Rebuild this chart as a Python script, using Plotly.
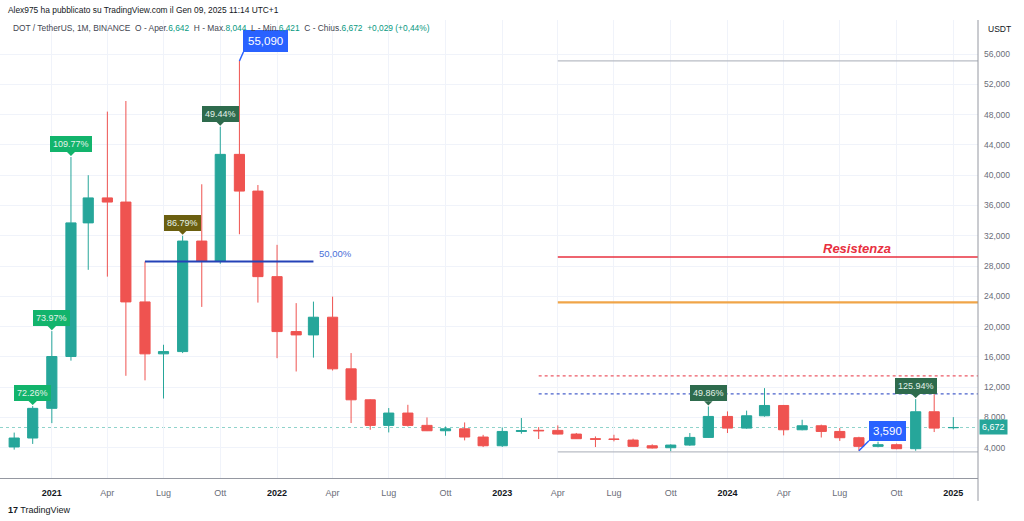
import plotly.graph_objects as go

# ---------------- data ----------------
months = ["2020-11-01", "2020-12-01",
          "2021-01-01", "2021-02-01", "2021-03-01", "2021-04-01", "2021-05-01", "2021-06-01",
          "2021-07-01", "2021-08-01", "2021-09-01", "2021-10-01", "2021-11-01", "2021-12-01",
          "2022-01-01", "2022-02-01", "2022-03-01", "2022-04-01", "2022-05-01", "2022-06-01",
          "2022-07-01", "2022-08-01", "2022-09-01", "2022-10-01", "2022-11-01", "2022-12-01",
          "2023-01-01", "2023-02-01", "2023-03-01", "2023-04-01", "2023-05-01", "2023-06-01",
          "2023-07-01", "2023-08-01", "2023-09-01", "2023-10-01", "2023-11-01", "2023-12-01",
          "2024-01-01", "2024-02-01", "2024-03-01", "2024-04-01", "2024-05-01", "2024-06-01",
          "2024-07-01", "2024-08-01", "2024-09-01", "2024-10-01", "2024-11-01", "2024-12-01",
          "2025-01-01"]
open_ = [4.10, 5.28,
         9.20, 16.05, 33.70, 37.00, 36.45, 23.26,
         16.40, 16.70, 31.30, 28.60, 42.75, 37.90,
         26.60, 19.34, 18.90, 21.24, 14.42, 10.33,
         6.95, 8.58, 6.95, 6.24, 6.50, 5.41,
         4.26, 6.15, 6.30, 6.29, 5.80, 5.19,
         5.15, 5.01, 4.26, 4.00, 4.35, 5.36,
         8.13, 6.59, 8.22, 9.58, 6.37, 6.90,
         6.15, 5.32, 4.18, 4.40, 3.87, 8.75,
         6.642]
high = [6.00, 9.50,
        19.40, 42.40, 40.00, 48.40, 49.80, 28.60,
        17.60, 32.00, 38.80, 46.40, 55.09, 38.70,
        30.80, 23.10, 23.30, 23.96, 16.50, 10.40,
        9.24, 9.67, 8.00, 6.80, 7.34, 5.70,
        6.68, 7.92, 6.73, 6.95, 5.95, 5.49,
        5.71, 5.20, 4.45, 4.45, 5.94, 9.45,
        8.80, 8.90, 11.87, 9.65, 7.69, 7.05,
        6.60, 5.45, 4.80, 4.55, 10.42, 11.08,
        8.044]
low = [3.75, 4.50,
       7.25, 15.50, 27.50, 26.60, 13.50, 12.90,
       10.50, 16.50, 22.60, 28.30, 32.20, 23.17,
       15.83, 14.07, 15.90, 14.20, 7.26, 6.37,
       6.02, 6.80, 6.20, 5.58, 4.97, 4.09,
       4.10, 5.85, 5.15, 5.75, 5.15, 4.09,
       4.84, 4.15, 3.90, 3.52, 4.25, 5.30,
       5.94, 6.50, 8.10, 5.63, 6.30, 5.35,
       4.90, 3.60, 4.05, 3.80, 3.60, 6.07,
       6.421]
close = [5.28, 9.20,
         16.05, 33.70, 37.00, 36.45, 23.26, 16.40,
         16.70, 31.30, 28.60, 42.75, 37.90, 26.60,
         19.34, 18.90, 21.24, 14.42, 10.33, 6.95,
         8.58, 6.95, 6.24, 6.50, 5.41, 4.26,
         6.15, 6.26, 6.24, 5.80, 5.19, 5.12,
         5.10, 4.18, 3.96, 4.35, 5.36, 8.13,
         6.59, 8.22, 9.58, 6.37, 6.90, 6.15,
         5.32, 4.18, 4.40, 3.87, 8.75, 6.59,
         6.672]

x_ticks = ["2021-01-01", "2021-04-01", "2021-07-01", "2021-10-01",
           "2022-01-01", "2022-04-01", "2022-07-01", "2022-10-01",
           "2023-01-01", "2023-04-01", "2023-07-01", "2023-10-01",
           "2024-01-01", "2024-04-01", "2024-07-01", "2024-10-01",
           "2025-01-01"]
x_labels = ["2021", "Apr", "Lug", "Ott", "2022", "Apr", "Lug", "Ott",
            "2023", "Apr", "Lug", "Ott", "2024", "Apr", "Lug", "Ott",
            "2025"]
y_ticks = [4, 8, 12, 16, 20, 24, 28, 32, 36, 40, 44, 48, 52, 56]
y_labels = ["4,000", "8,000", "12,000", "16,000", "20,000", "24,000", "28,000",
            "32,000", "36,000", "40,000", "44,000", "48,000", "52,000", "56,000"]

# percentage call-outs
callout_months = ["2020-12-01", "2021-01-01", "2021-02-01", "2021-08-01",
                  "2021-10-01", "2023-12-01", "2024-11-01"]
callout_texts = ["72.26%", "73.97%", "109.77%", "86.79%", "49.44%", "49.86%", "125.94%"]
callout_colors = ["#12b46c", "#12b46c", "#12b46c", "#6b5f10", "#2e6b4d", "#2e6b4d", "#2e6b4d"]

# horizontal levels
level_values = [55.09, 29.2, 23.2, 13.5, 11.1, 3.45]
level_starts = ["2023-04-01", "2023-04-01", "2023-04-01", "2023-03-01", "2023-03-01", "2023-04-01"]
level_colors = ["#b8bcc4", "#e8303f", "#f0a548", "#ec5a66", "#4a62cc", "#b8bcc4"]
level_dashes = ["solid", "solid", "solid", "dot", "dot", "solid"]
level_widths = [1.2, 1.6, 2.2, 1.2, 1.2, 1.2]

mid_level = 28.6
mid_start, mid_end = "2021-06-01", "2022-03-01"
last_price = 6.672

x_range = ["2020-10-09", "2025-02-10"]
y_range = [0, 60.5]

GREEN = "#26a69a"
RED = "#ef5350"
FONT = "Liberation Sans"

# year labels bold and dark, month labels grey
x_text = ["<b><span style='color:#131722'>%s</span></b>" % t if t.isdigit() else t for t in x_labels]

fig = go.Figure()
fig.add_trace(go.Candlestick(
    x=months, open=open_, high=high, low=low, close=close,
    increasing=dict(line=dict(color=GREEN, width=1), fillcolor=GREEN),
    decreasing=dict(line=dict(color=RED, width=1), fillcolor=RED),
    whiskerwidth=0, showlegend=False, hoverinfo="skip",
))

shapes = []
shapes.append(dict(type="line", xref="x", yref="y", x0=x_range[0], x1=x_range[1],
                   y0=last_price, y1=last_price,
                   line=dict(color="#8fd3cb", width=1, dash="dot"), layer="below"))
for v, s, c, d, w in zip(level_values, level_starts, level_colors, level_dashes, level_widths):
    shapes.append(dict(type="line", xref="x", yref="y", x0=s, x1=x_range[1], y0=v, y1=v,
                       line=dict(color=c, width=w, dash=d)))
shapes.append(dict(type="line", xref="x", yref="y", x0=mid_start, x1=mid_end,
                   y0=mid_level, y1=mid_level, line=dict(color="#2442b8", width=2)))
shapes.append(dict(type="line", xref="paper", yref="paper", x0=1, x1=1, y0=-0.05, y1=1,
                   line=dict(color="#9598a1", width=1)))

annotations = []
idx = {m: i for i, m in enumerate(months)}
for m, t, c in zip(callout_months, callout_texts, callout_colors):
    annotations.append(dict(
        x=m, y=high[idx[m]], xref="x", yref="y", text=t,
        showarrow=True, arrowhead=1, arrowsize=1.4, arrowwidth=1, arrowcolor=c,
        ax=0, ay=-5, standoff=1, yanchor="bottom",
        bgcolor=c, bordercolor=c, borderpad=2,
        font=dict(family=FONT, size=9, color="#e3f2ea")))

m55 = "2021-11-01"
annotations.append(dict(x=m55, y=high[idx[m55]], xref="x", yref="y", text="55,090",
                        showarrow=True, arrowhead=0, arrowwidth=1.5, arrowcolor="#2962ff",
                        ax=4, ay=-9, xanchor="left", yanchor="bottom",
                        bgcolor="#2962ff", bordercolor="#2962ff", borderpad=4,
                        font=dict(family=FONT, size=11.5, color="white")))
m35 = "2024-08-01"
annotations.append(dict(x=m35, y=low[idx[m35]], xref="x", yref="y", text="3,590",
                        showarrow=True, arrowhead=0, arrowwidth=1.5, arrowcolor="#2962ff",
                        ax=10, ay=-10, xanchor="left", yanchor="bottom",
                        bgcolor="#2962ff", bordercolor="#2962ff", borderpad=3,
                        font=dict(family=FONT, size=11.5, color="white")))
annotations.append(dict(x="2024-07-29", y=level_values[1], xref="x", yref="y",
                        text="<b><i>Resistenza</i></b>", showarrow=False,
                        yanchor="bottom", yshift=-1,
                        font=dict(family=FONT, size=13, color="#e8303f")))
annotations.append(dict(x=mid_end, y=mid_level, xref="x", yref="y", text="50,00%",
                        showarrow=False, xanchor="left", xshift=4, yanchor="bottom",
                        font=dict(family=FONT, size=9.5, color="#4a6fd8")))
annotations.append(dict(x=1, y=last_price, xref="paper", yref="y", text="6,672",
                        showarrow=False, xanchor="left", xshift=1,
                        bgcolor=GREEN, borderpad=2,
                        font=dict(family=FONT, size=9, color="white")))
annotations.append(dict(x=1, y=1, xref="paper", yref="paper", text="USDT",
                        showarrow=False, xanchor="left", xshift=8, yanchor="middle", yshift=-9,
                        font=dict(family=FONT, size=8.5, color="#131722")))
annotations.append(dict(x=0, y=1, xref="paper", yref="paper",
                        text="Alex975 ha pubblicato su TradingView.com il Gen 09, 2025 11:14 UTC+1",
                        showarrow=False, xanchor="left", yanchor="middle", xshift=6, yshift=10,
                        font=dict(family=FONT, size=8.4, color="#131722")))
G = "#089981"
hdr = ("DOT / TetherUS, 1M, BINANCE\u00a0\u00a0O - Aper.<span style='color:%s'>6,642</span>"
       "\u00a0\u00a0H - Max.<span style='color:%s'>8,044</span>"
       "\u00a0\u00a0L - Min.<span style='color:%s'>6,421</span>"
       "\u00a0\u00a0C - Chius.<span style='color:%s'>6,672</span>"
       "\u00a0\u00a0<span style='color:%s'>+0,029 (+0,44%%)</span>") % (G, G, G, G, G)
annotations.append(dict(x=0, y=1, xref="paper", yref="paper", text=hdr,
                        showarrow=False, xanchor="left", yanchor="middle", xshift=11, yshift=-8,
                        font=dict(family=FONT, size=8.4, color="#434651")))
annotations.append(dict(x=0, y=0, xref="paper", yref="paper",
                        text="<b>17</b> TradingView", showarrow=False,
                        xanchor="left", yanchor="middle", xshift=6, yshift=-32,
                        font=dict(family=FONT, size=9, color="#131722")))

fig.update_layout(
    template="none",
    width=1024, height=521,
    margin=dict(l=0, r=46, t=20, b=43, autoexpand=False),
    paper_bgcolor="white", plot_bgcolor="white",
    boxgap=0.16,
    shapes=shapes, annotations=annotations,
    font=dict(family=FONT),
    xaxis=dict(type="date", range=x_range, tickvals=x_ticks, ticktext=x_text,
               showgrid=True, gridcolor="#f0f3fa", gridwidth=1,
               showline=True, linecolor="#9598a1", linewidth=1,
               ticks="", ticklabelstandoff=6, automargin=False,
               tickfont=dict(family=FONT, size=9, color="#6a6d78"),
               rangeslider=dict(visible=False), fixedrange=True, zeroline=False),
    yaxis=dict(range=y_range, tickvals=y_ticks, ticktext=y_labels, side="right",
               showgrid=True, gridcolor="#f0f3fa", gridwidth=1,
               showline=False, ticks="", ticklabelstandoff=5, automargin=False,
               tickfont=dict(family=FONT, size=8.5, color="#6a6d78"),
               zeroline=False, fixedrange=True),
)

fig.write_html("out.html", config={"displayModeBar": False},
               post_script="document.body.style.margin='0';document.body.style.overflow='hidden';")
